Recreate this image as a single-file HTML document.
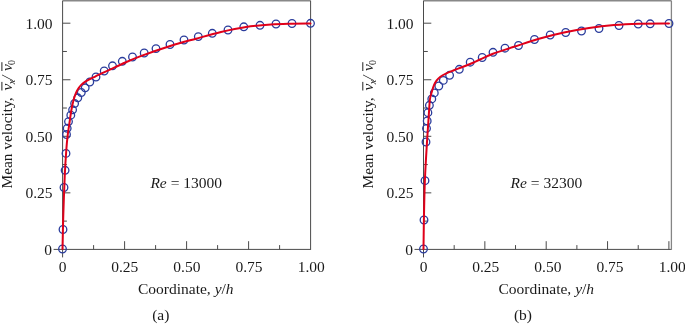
<!DOCTYPE html>
<html><head><meta charset="utf-8"><title>Mean velocity profiles</title>
<style>html,body{margin:0;padding:0;background:#fff}svg{display:block;will-change:transform}text{font-family:"Liberation Serif","Times New Roman",serif;font-size:15.5px;fill:#1a1a1a}</style>
</head><body>
<svg width="685" height="324" viewBox="0 0 685 324">
<rect width="685" height="324" fill="#fff"/>
<path d="M62.6 0.7H310.6" stroke="#888" stroke-width="1.5" fill="none"/>
<path d="M62.6 0.7V257.4M53.6 249.4H310.6" stroke="#4a4a4a" stroke-width="1" fill="none"/>
<path d="M310.6 249.9V0.7" stroke="#4a4a4a" stroke-width="1" fill="none"/>
<path d="M93.60 249.4v-4.3M124.60 249.4v-8.2M155.60 249.4v-4.3M186.60 249.4v-8.2M217.60 249.4v-4.3M248.60 249.4v-8.2M279.60 249.4v-4.3M62.6 221.12h4.3M62.6 192.85h7.8M62.6 164.57h4.3M62.6 136.30h7.8M62.6 108.03h4.3M62.6 79.75h7.8M62.6 51.47h4.3M62.6 23.20h7.8" stroke="#4a4a4a" stroke-width="1" fill="none"/>
<text x="62.6" y="271.6" text-anchor="middle">0</text>
<text x="52.1" y="254.9" text-anchor="end">0</text>
<text x="124.8" y="271.6" text-anchor="middle">0.25</text>
<text x="52.6" y="198.3" text-anchor="end">0.25</text>
<text x="186.9" y="271.6" text-anchor="middle">0.50</text>
<text x="52.6" y="141.8" text-anchor="end">0.50</text>
<text x="249.0" y="271.6" text-anchor="middle">0.75</text>
<text x="52.6" y="85.2" text-anchor="end">0.75</text>
<text x="311.2" y="271.6" text-anchor="middle">1.00</text>
<text x="52.6" y="28.7" text-anchor="end">1.00</text>
<text x="185.8" y="294.2" text-anchor="middle">Coordinate, <tspan font-style="italic">y</tspan>/<tspan font-style="italic">h</tspan></text>
<text x="160.8" y="320" text-anchor="middle">(a)</text>
<text x="186.2" y="187.6" text-anchor="middle"><tspan font-style="italic">Re</tspan> = 13000</text>
<g transform="translate(12.1,188.5) rotate(-90)"><text x="0" y="0" textLength="91" lengthAdjust="spacingAndGlyphs">Mean velocity,</text><text x="98" y="0" font-style="italic">v</text><text x="104.3" y="3.1" font-style="italic" style="font-size:10px">x</text><text x="108.3" y="0.6" font-style="italic" style="font-size:16.5px">/</text><text x="117.6" y="0" font-style="italic">v</text><text x="123.6" y="3.1" style="font-size:10px">0</text><path d="M98 -10.2h8.6M117.5 -10.2h8.8" stroke="#222" stroke-width="1"/></g>
<circle cx="62.5" cy="249" r="3.8" fill="none" stroke="#2a3c9c" stroke-width="1.3"/>
<circle cx="63" cy="229.5" r="3.8" fill="none" stroke="#2a3c9c" stroke-width="1.3"/>
<circle cx="64" cy="187.5" r="3.8" fill="none" stroke="#2a3c9c" stroke-width="1.3"/>
<circle cx="65.1" cy="170.3" r="3.8" fill="none" stroke="#2a3c9c" stroke-width="1.3"/>
<circle cx="66" cy="153.4" r="3.8" fill="none" stroke="#2a3c9c" stroke-width="1.3"/>
<circle cx="66.5" cy="134.5" r="3.8" fill="none" stroke="#2a3c9c" stroke-width="1.3"/>
<circle cx="67.2" cy="128.3" r="3.8" fill="none" stroke="#2a3c9c" stroke-width="1.3"/>
<circle cx="68.5" cy="121.6" r="3.8" fill="none" stroke="#2a3c9c" stroke-width="1.3"/>
<circle cx="70.8" cy="115.2" r="3.8" fill="none" stroke="#2a3c9c" stroke-width="1.3"/>
<circle cx="72.6" cy="109.8" r="3.8" fill="none" stroke="#2a3c9c" stroke-width="1.3"/>
<circle cx="74.6" cy="103.5" r="3.8" fill="none" stroke="#2a3c9c" stroke-width="1.3"/>
<circle cx="77.8" cy="97.8" r="3.8" fill="none" stroke="#2a3c9c" stroke-width="1.3"/>
<circle cx="81.3" cy="92.5" r="3.8" fill="none" stroke="#2a3c9c" stroke-width="1.3"/>
<circle cx="85.2" cy="87.8" r="3.8" fill="none" stroke="#2a3c9c" stroke-width="1.3"/>
<circle cx="89.8" cy="82" r="3.8" fill="none" stroke="#2a3c9c" stroke-width="1.3"/>
<circle cx="96" cy="77" r="3.8" fill="none" stroke="#2a3c9c" stroke-width="1.3"/>
<circle cx="104.2" cy="71" r="3.8" fill="none" stroke="#2a3c9c" stroke-width="1.3"/>
<circle cx="112.5" cy="65.8" r="3.8" fill="none" stroke="#2a3c9c" stroke-width="1.3"/>
<circle cx="122.3" cy="61.3" r="3.8" fill="none" stroke="#2a3c9c" stroke-width="1.3"/>
<circle cx="132.5" cy="57" r="3.8" fill="none" stroke="#2a3c9c" stroke-width="1.3"/>
<circle cx="144.2" cy="53" r="3.8" fill="none" stroke="#2a3c9c" stroke-width="1.3"/>
<circle cx="156" cy="48.6" r="3.8" fill="none" stroke="#2a3c9c" stroke-width="1.3"/>
<circle cx="170" cy="44.5" r="3.8" fill="none" stroke="#2a3c9c" stroke-width="1.3"/>
<circle cx="184" cy="40" r="3.8" fill="none" stroke="#2a3c9c" stroke-width="1.3"/>
<circle cx="198.3" cy="36.6" r="3.8" fill="none" stroke="#2a3c9c" stroke-width="1.3"/>
<circle cx="212.3" cy="33.3" r="3.8" fill="none" stroke="#2a3c9c" stroke-width="1.3"/>
<circle cx="228" cy="30" r="3.8" fill="none" stroke="#2a3c9c" stroke-width="1.3"/>
<circle cx="243.8" cy="26.8" r="3.8" fill="none" stroke="#2a3c9c" stroke-width="1.3"/>
<circle cx="260" cy="25.3" r="3.8" fill="none" stroke="#2a3c9c" stroke-width="1.3"/>
<circle cx="276" cy="24" r="3.8" fill="none" stroke="#2a3c9c" stroke-width="1.3"/>
<circle cx="292" cy="23.5" r="3.8" fill="none" stroke="#2a3c9c" stroke-width="1.3"/>
<circle cx="310.5" cy="23.3" r="3.8" fill="none" stroke="#2a3c9c" stroke-width="1.3"/>
<path d="M62.5 249C62.63 243.33 62.92 227.42 63.3 215C63.68 202.58 64.30 185.33 64.8 174.5C65.30 163.67 65.83 156.42 66.3 150C66.77 143.58 67.05 140.67 67.6 136C68.15 131.33 68.97 126.33 69.6 122C70.23 117.67 70.83 113.28 71.4 110C71.97 106.72 72.48 104.50 73 102.3C73.52 100.10 73.85 98.68 74.5 96.8C75.15 94.92 76.18 92.50 76.9 91C77.62 89.50 78.03 88.87 78.8 87.8C79.57 86.73 80.42 85.63 81.5 84.6C82.58 83.57 83.88 82.53 85.3 81.6C86.72 80.67 88.28 79.88 90 79C91.72 78.12 93.82 77.17 95.6 76.3C97.38 75.43 98.40 74.87 100.7 73.8C103.00 72.73 105.85 71.53 109.4 69.9C112.95 68.27 116.90 66.25 122 64C127.10 61.75 131.83 59.43 140 56.4C148.17 53.37 161.67 48.75 171 45.8C180.33 42.85 187.67 41.00 196 38.7C204.33 36.40 212.67 33.95 221 32C229.33 30.05 237.67 28.25 246 27C254.33 25.75 263.50 25.05 271 24.5C278.50 23.95 284.42 23.87 291 23.7C297.58 23.53 307.25 23.53 310.5 23.5" stroke="#e0001a" stroke-width="2" fill="none" stroke-linejoin="round" stroke-linecap="round"/>
<path d="M423.5 0.7H671.4" stroke="#888" stroke-width="1.5" fill="none"/>
<path d="M423.5 0.7V257.4M414.5 249.4H671.4" stroke="#4a4a4a" stroke-width="1" fill="none"/>
<path d="M671.4 249.9V0.7" stroke="#858585" stroke-width="1.3" fill="none"/>
<path d="M454.18 249.4v-4.3M484.85 249.4v-8.2M515.52 249.4v-4.3M546.20 249.4v-8.2M576.88 249.4v-4.3M607.55 249.4v-8.2M638.22 249.4v-4.3M668.90 249.4v-8.2M423.5 221.12h4.3M423.5 192.85h7.8M423.5 164.57h4.3M423.5 136.30h7.8M423.5 108.03h4.3M423.5 79.75h7.8M423.5 51.47h4.3M423.5 23.20h7.8" stroke="#4a4a4a" stroke-width="1" fill="none"/>
<text x="423.5" y="271.6" text-anchor="middle">0</text>
<text x="413.0" y="254.9" text-anchor="end">0</text>
<text x="485.7" y="271.6" text-anchor="middle">0.25</text>
<text x="413.5" y="198.3" text-anchor="end">0.25</text>
<text x="547.9" y="271.6" text-anchor="middle">0.50</text>
<text x="413.5" y="141.8" text-anchor="end">0.50</text>
<text x="610.0" y="271.6" text-anchor="middle">0.75</text>
<text x="413.5" y="85.2" text-anchor="end">0.75</text>
<text x="672.2" y="271.6" text-anchor="middle">1.00</text>
<text x="413.5" y="28.7" text-anchor="end">1.00</text>
<text x="546.3" y="294.2" text-anchor="middle">Coordinate, <tspan font-style="italic">y</tspan>/<tspan font-style="italic">h</tspan></text>
<text x="523" y="320" text-anchor="middle">(b)</text>
<text x="546.4" y="187.6" text-anchor="middle"><tspan font-style="italic">Re</tspan> = 32300</text>
<g transform="translate(373.0,188.5) rotate(-90)"><text x="0" y="0" textLength="91" lengthAdjust="spacingAndGlyphs">Mean velocity,</text><text x="98" y="0" font-style="italic">v</text><text x="104.3" y="3.1" font-style="italic" style="font-size:10px">x</text><text x="108.3" y="0.6" font-style="italic" style="font-size:16.5px">/</text><text x="117.6" y="0" font-style="italic">v</text><text x="123.6" y="3.1" style="font-size:10px">0</text><path d="M98 -10.2h8.6M117.5 -10.2h8.8" stroke="#222" stroke-width="1"/></g>
<circle cx="423.5" cy="249" r="3.8" fill="none" stroke="#2a3c9c" stroke-width="1.3"/>
<circle cx="424" cy="220" r="3.8" fill="none" stroke="#2a3c9c" stroke-width="1.3"/>
<circle cx="425" cy="180.7" r="3.8" fill="none" stroke="#2a3c9c" stroke-width="1.3"/>
<circle cx="426" cy="142" r="3.8" fill="none" stroke="#2a3c9c" stroke-width="1.3"/>
<circle cx="426.5" cy="128.4" r="3.8" fill="none" stroke="#2a3c9c" stroke-width="1.3"/>
<circle cx="427.2" cy="121" r="3.8" fill="none" stroke="#2a3c9c" stroke-width="1.3"/>
<circle cx="427.9" cy="112.7" r="3.8" fill="none" stroke="#2a3c9c" stroke-width="1.3"/>
<circle cx="429.4" cy="105.3" r="3.8" fill="none" stroke="#2a3c9c" stroke-width="1.3"/>
<circle cx="431.8" cy="98.9" r="3.8" fill="none" stroke="#2a3c9c" stroke-width="1.3"/>
<circle cx="434.3" cy="92.9" r="3.8" fill="none" stroke="#2a3c9c" stroke-width="1.3"/>
<circle cx="438.8" cy="86" r="3.8" fill="none" stroke="#2a3c9c" stroke-width="1.3"/>
<circle cx="443.3" cy="80.4" r="3.8" fill="none" stroke="#2a3c9c" stroke-width="1.3"/>
<circle cx="449.6" cy="75.3" r="3.8" fill="none" stroke="#2a3c9c" stroke-width="1.3"/>
<circle cx="459.3" cy="69.3" r="3.8" fill="none" stroke="#2a3c9c" stroke-width="1.3"/>
<circle cx="470.2" cy="62.2" r="3.8" fill="none" stroke="#2a3c9c" stroke-width="1.3"/>
<circle cx="482.2" cy="57.5" r="3.8" fill="none" stroke="#2a3c9c" stroke-width="1.3"/>
<circle cx="493" cy="52.3" r="3.8" fill="none" stroke="#2a3c9c" stroke-width="1.3"/>
<circle cx="505" cy="48.2" r="3.8" fill="none" stroke="#2a3c9c" stroke-width="1.3"/>
<circle cx="518.5" cy="45.5" r="3.8" fill="none" stroke="#2a3c9c" stroke-width="1.3"/>
<circle cx="534.5" cy="39.5" r="3.8" fill="none" stroke="#2a3c9c" stroke-width="1.3"/>
<circle cx="550.2" cy="35" r="3.8" fill="none" stroke="#2a3c9c" stroke-width="1.3"/>
<circle cx="565.7" cy="32.5" r="3.8" fill="none" stroke="#2a3c9c" stroke-width="1.3"/>
<circle cx="581.5" cy="31" r="3.8" fill="none" stroke="#2a3c9c" stroke-width="1.3"/>
<circle cx="599" cy="28.5" r="3.8" fill="none" stroke="#2a3c9c" stroke-width="1.3"/>
<circle cx="619" cy="25.5" r="3.8" fill="none" stroke="#2a3c9c" stroke-width="1.3"/>
<circle cx="638.2" cy="24" r="3.8" fill="none" stroke="#2a3c9c" stroke-width="1.3"/>
<circle cx="650.2" cy="23.8" r="3.8" fill="none" stroke="#2a3c9c" stroke-width="1.3"/>
<circle cx="669" cy="23.5" r="3.8" fill="none" stroke="#2a3c9c" stroke-width="1.3"/>
<path d="M423.5 249C423.57 244.17 423.67 231.50 423.9 220C424.13 208.50 424.38 193.00 424.9 180C425.42 167.00 426.35 152.83 427 142C427.65 131.17 428.32 122.08 428.8 115C429.28 107.92 429.42 103.32 429.9 99.5C430.38 95.68 430.98 94.57 431.7 92.1C432.42 89.63 433.37 86.65 434.2 84.7C435.03 82.75 435.67 81.73 436.7 80.4C437.73 79.07 438.87 77.83 440.4 76.7C441.93 75.57 443.75 74.63 445.9 73.6C448.05 72.57 450.62 71.57 453.3 70.5C455.98 69.43 459.22 68.28 462 67.2C464.78 66.12 467.00 65.28 470 64C473.00 62.72 476.17 61.22 480 59.5C483.83 57.78 487.33 55.82 493 53.7C498.67 51.58 506.33 49.30 514 46.8C521.67 44.30 530.67 41.08 539 38.7C547.33 36.32 555.67 34.28 564 32.5C572.33 30.72 580.67 29.25 589 28C597.33 26.75 605.67 25.72 614 25C622.33 24.28 629.83 23.95 639 23.7C648.17 23.45 664.00 23.53 669 23.5" stroke="#e0001a" stroke-width="2" fill="none" stroke-linejoin="round" stroke-linecap="round"/>
</svg>
</body></html>
